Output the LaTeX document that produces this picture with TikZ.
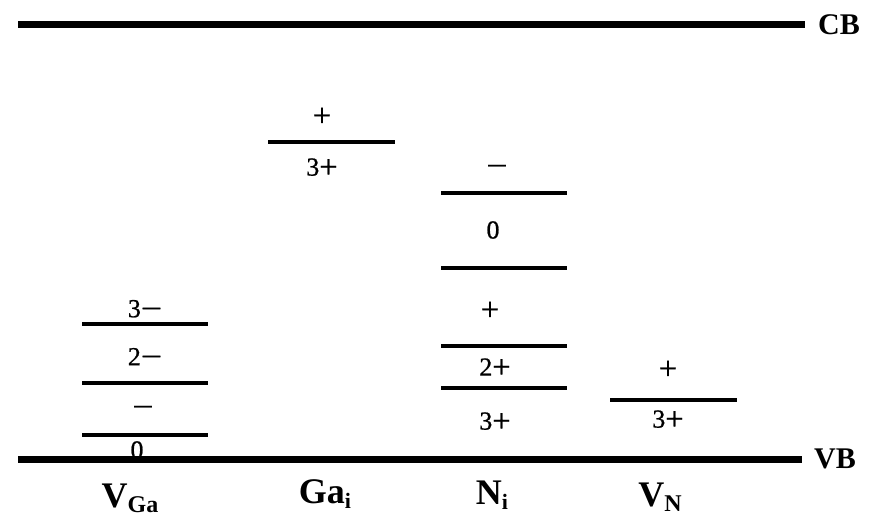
\documentclass[tikz,border=0pt]{standalone}
\usepackage{graphicx}
\usepackage{fontspec}
\setmainfont{Liberation Serif}
\newfontfamily\heavyserif[FakeBold=0.8]{Liberation Serif}
\newcommand{\mn}{\raisebox{-0.03em}{\scalebox{1.45}[1.1]{−}}}
\newcommand{\pl}{\raisebox{-0.075em}{\scalebox{1.25}{+}}}
\begin{document}
\begin{tikzpicture}[x=1pt,y=-1pt,
  band/.style={line width=7pt},
  level/.style={line width=4pt},
  lab/.style={font=\heavyserif\fontsize{26}{26}\selectfont, inner sep=0pt},
  blab/.style={font=\fontsize{30}{30}\selectfont\bfseries, inner sep=0pt},
  dlab/.style={font=\fontsize{36}{36}\selectfont\bfseries, inner sep=0pt}]
\useasboundingbox (0,0) rectangle (880,530);
% bands
\coordinate (cbL) at (18,24); \coordinate (cbR) at (805,24);
\coordinate (vbL) at (18,459); \coordinate (vbR) at (802,459);
\draw[band] (cbL) -- (cbR);
\node[blab, anchor=west] (cb) at (818,25) {CB};
% V_Ga
\coordinate (g1a) at (82,324); \coordinate (g1b) at (208,324);
\coordinate (g2a) at (82,383); \coordinate (g2b) at (208,383);
\coordinate (g3a) at (82,435); \coordinate (g3b) at (208,435);
\draw[level] (g1a) -- (g1b);
\draw[level] (g2a) -- (g2b);
\draw[level] (g3a) -- (g3b);
\node[lab] (vga3) at (145,309) {3\mn};
\node[lab] (vga2) at (145,357) {2\mn};
\node[lab] (vga1) at (143,411) {\mn};
\node[lab] (vga0) at (137,450) {0};
% Ga_i
\coordinate (ia) at (268,142); \coordinate (ib) at (395,142);
\draw[level] (ia) -- (ib);
\node[lab] (gip) at (322,117) {\pl};
\node[lab] (gi3) at (322,168) {3\pl};
% N_i
\coordinate (n1a) at (441,193); \coordinate (n1b) at (567,193);
\coordinate (n2a) at (441,268); \coordinate (n2b) at (567,268);
\coordinate (n3a) at (441,346); \coordinate (n3b) at (567,346);
\coordinate (n4a) at (441,388); \coordinate (n4b) at (567,388);
\draw[level] (n1a) -- (n1b);
\draw[level] (n2a) -- (n2b);
\draw[level] (n3a) -- (n3b);
\draw[level] (n4a) -- (n4b);
\node[lab] (nim) at (497,170) {\mn};
\node[lab] (ni0) at (493,230) {0};
\node[lab] (nip) at (490,311) {\pl};
\node[lab] (ni2) at (495,368) {2\pl};
\node[lab] (ni3) at (495,422) {3\pl};
% V_N
\coordinate (va) at (610,400); \coordinate (vb) at (737,400);
\draw[level] (va) -- (vb);
\node[lab] (vnp) at (668,370) {\pl};
\node[lab] (vn3) at (668,420) {3\pl};
% VB drawn last (covers the 0)
\draw[band] (vbL) -- (vbR);
\node[blab, anchor=west] (vbt) at (814,459) {VB};
% defect labels
\node[dlab] (dvga) at (130,498) {V\raisebox{-0.3ex}{\fontsize{24}{24}\selectfont Ga}};
\node[dlab] (dgai) at (325,494) {Ga\raisebox{-0.3ex}{\fontsize{22}{22}\selectfont i}};
\node[dlab] (dni) at (492,495) {N\raisebox{-0.3ex}{\fontsize{22}{22}\selectfont i}};
\node[dlab] (dvn) at (660,497) {V\raisebox{-0.3ex}{\fontsize{24}{24}\selectfont N}};
\end{tikzpicture}
\end{document}
